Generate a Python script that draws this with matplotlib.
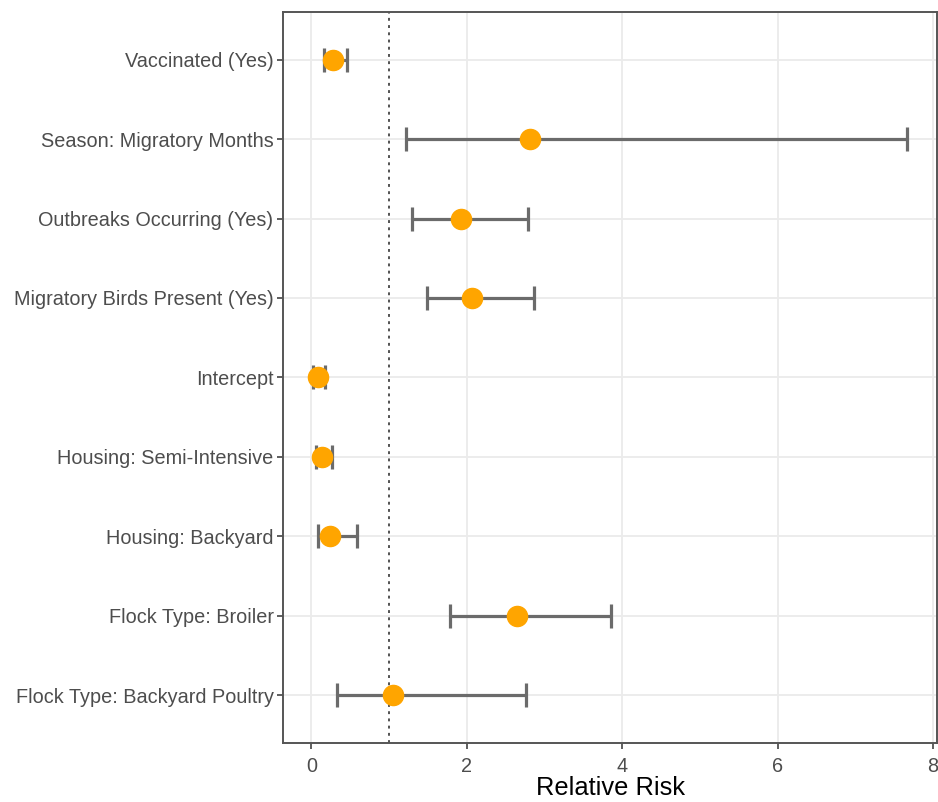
import numpy as np
import matplotlib
matplotlib.use("Agg")
import matplotlib.pyplot as plt

plt.rcParams["font.family"] = ["Liberation Sans", "DejaVu Sans"]

# top to bottom as shown
terms = ["Vaccinated (Yes)",
         "Season: Migratory Months",
         "Outbreaks Occurring (Yes)",
         "Migratory Birds Present (Yes)",
         "Intercept",
         "Housing: Semi-Intensive",
         "Housing: Backyard",
         "Flock Type: Broiler",
         "Flock Type: Backyard Poultry"]
rr = [0.28, 2.81, 1.92, 2.07, 0.08, 0.13, 0.24, 2.65, 1.05]
lower = [0.16, 1.22, 1.30, 1.49, 0.02, 0.06, 0.09, 1.78, 0.33]
upper = [0.46, 7.67, 2.79, 2.86, 0.18, 0.26, 0.58, 3.86, 2.76]

rr = np.array(rr)
lower = np.array(lower)
upper = np.array(upper)
y = np.arange(len(terms))[::-1]

fig = plt.figure(figsize=(9.38, 8.02), dpi=100)
ax = fig.add_axes([0.302, 0.074, 0.697, 0.911])

ax.axvline(1, color="#444444", lw=1.3, ls=(0, (1.6, 2.4)), zorder=2)
ax.errorbar(rr, y, xerr=[rr - lower, upper - rr], fmt="none",
            ecolor="#6b6b6b", elinewidth=2.3, capsize=8.3, capthick=2.3, zorder=3)
ax.plot(rr, y, "o", color="#FFA500", ms=14.5, mec="#FFA500", zorder=4)

lo, hi = lower.min(), upper.max()
pad = 0.05 * (hi - lo)
ax.set_xlim(lo - pad, hi + pad)
ax.set_ylim(-0.6, len(terms) - 1 + 0.6)
ax.set_xticks([0, 2, 4, 6, 8])
ax.set_yticks(y)
ax.set_yticklabels(terms)

ax.grid(True, color="#EBEBEB", lw=1.3, zorder=0)
ax.set_axisbelow(True)
for s in ax.spines.values():
    s.set_color("#555555")
    s.set_linewidth(1.4)
ax.tick_params(axis="both", colors="#333333", length=4, width=1.1,
               labelsize=14.3, labelcolor="#4D4D4D", pad=3)
ax.tick_params(axis="x", pad=6)
ax.set_xlabel("Relative Risk", fontsize=18.4, color="black", labelpad=0)

fig.savefig("out.png", dpi=100)
